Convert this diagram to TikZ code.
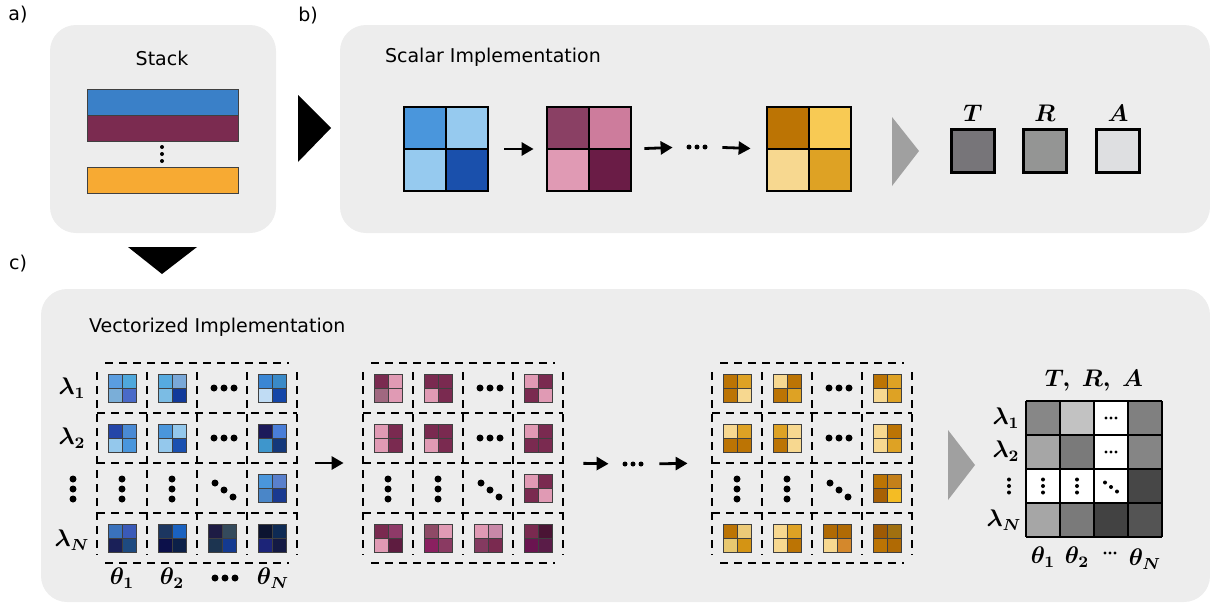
\documentclass[tikz,border=0pt]{standalone}
\usepackage[no-math]{fontspec}
\setmainfont{DejaVu Sans}
\usepackage{amsmath,bm}
\usetikzlibrary{arrows.meta,positioning}

\definecolor{panelgray}{HTML}{EDEDED}
\definecolor{stackblue}{HTML}{3A80C8}
\definecolor{stackplum}{HTML}{7B2B50}
\definecolor{stackgold}{HTML}{F7AA33}
\definecolor{tipgray}{HTML}{A0A0A0}
\definecolor{boxT}{HTML}{777579}
\definecolor{boxR}{HTML}{949594}
\definecolor{boxA}{HTML}{DEDFE1}

\tikzset{
  panel/.style={fill=panelgray, rounded corners=13pt},
  cellgrid/.style={dash pattern=on 4pt off 3pt, line width=1.1pt},
  tile/.style={draw=black!75, line width=0.5pt},
  bigtile/.style={draw=black, line width=1.2pt},
  bar/.style={draw=black!75, line width=0.5pt},
  gbox/.style={draw, line width=1.2pt, minimum size=21.5pt, inner sep=0pt},
  flow/.style={-{Triangle[length=6pt,width=6.5pt]}, line width=1.4pt},
  lbl/.style={font=\fontsize{9.5}{11}\selectfont},
  mathlbl/.style={font=\fontsize{12}{14}\selectfont},
}

% name, style, x, y, half size, colours TL TR BL BR
\newcommand\tilegrid[9]{%
  \definecolor{tileTL}{HTML}{#6}\definecolor{tileTR}{HTML}{#7}%
  \definecolor{tileBL}{HTML}{#8}\definecolor{tileBR}{HTML}{#9}%
  \fill[tileTL] ({#3-#5},{#4-#5}) rectangle (#3,#4);
  \fill[tileTR] (#3,{#4-#5}) rectangle ({#3+#5},#4);
  \fill[tileBL] ({#3-#5},#4) rectangle (#3,{#4+#5});
  \fill[tileBR] (#3,#4) rectangle ({#3+#5},{#4+#5});
  \draw[#2] ({#3-#5},#4) -- ({#3+#5},#4) (#3,{#4-#5}) -- (#3,{#4+#5});
  \draw[#2] ({#3-#5},{#4-#5}) rectangle ({#3+#5},{#4+#5});
  \node[inner sep=0pt, minimum size=#5pt] (#1) at (#3,#4) {};
}

% x, y, dx, dy, radius
\newcommand\dotline[5]{%
  \foreach \k in {-1,0,1} \fill ({#1+\k*#3},{#2+\k*#4}) circle[radius=#5];
}

% name, x0, y0
\newcommand\dashgrid[3]{%
  \foreach \i in {0,...,4} \draw[cellgrid] ({#2+50*\i},{#3+9}) -- ({#2+50*\i},{#3+192});
  \foreach \j in {1,2,3} \draw[cellgrid] (#2,{#3+50*\j}) -- ({#2+200},{#3+50*\j});
  \draw[cellgrid] ({#2+8},#3) -- ({#2+192},#3) ({#2+8},{#3+200}) -- ({#2+192},{#3+200});
  \node[inner sep=0pt, minimum size=100pt] (#1) at ({#2+100},{#3+100}) {};
}

\begin{document}
\begin{tikzpicture}[x=0.5pt, y=-0.5pt]
\useasboundingbox (0,0) rectangle (1210,605);

% panels
\fill[panel] (50,25) rectangle (276,233);
\fill[panel] (340,25) rectangle (1210,233);
\fill[panel] (41,289) rectangle (1210,602);

\node[lbl] (la) at (18,15) {a)};
\node[lbl] (lb) at (308,16) {b)};
\node[lbl] (lc) at (18,264) {c)};

% a) stack
\node[lbl] (stack) at (162,58) {Stack};
\draw[bar, fill=stackblue] (87,89) rectangle (238,115);
\draw[bar, fill=stackplum] (87,115) rectangle (238,141);
\draw[bar, fill=stackgold] (87,167) rectangle (238,193);
\dotline{162}{154}{0}{7}{1pt}

\fill (298,95) -- (331,128) -- (298,162) -- cycle;
\fill (128,247) -- (197,247) -- (162,274) -- cycle;

% b) scalar
\node[lbl, anchor=west] (stitle) at (378,57) {Scalar Implementation};
\tilegrid{s1}{bigtile}{446}{149}{42}{4A96DC}{96CAEF}{96CAEF}{1A50AC}
\tilegrid{s2}{bigtile}{589}{149}{42}{8A4064}{CD7C9C}{E09AB4}{6A1C46}
\tilegrid{s3}{bigtile}{809}{149}{42}{BC7404}{F8CA54}{F7D890}{DEA224}
\node[inner sep=0pt, minimum width=11pt, minimum height=4pt] (sdots) at (697,147) {};
\dotline{697}{147}{8}{0}{1.25pt}
\draw[flow, shorten <=8pt, shorten >=6.5pt] (s1.east) -- (s2.west);
\draw[flow, shorten <=6.5pt, shorten >=6.5pt] (s2.east) -- (sdots.west);
\draw[flow, shorten <=7pt, shorten >=8pt] (sdots.east) -- (s3.west);

\fill[tipgray] (892,117) -- (919,151) -- (892,186) -- cycle;
\node[gbox, fill=boxT] (boxT) at (973,151) {};
\node[gbox, fill=boxR] (boxR) at (1045,151) {};
\node[gbox, fill=boxA] (boxA) at (1118,151) {};
\node[mathlbl, above=0pt of boxT] (lblT) {$\bm{T}$};
\node[mathlbl, above=0pt of boxR] (lblR) {$\bm{R}$};
\node[mathlbl, above=0pt of boxA] (lblA) {$\bm{A}$};

% c) vectorized
\node[lbl, anchor=west] (vtitle) at (82,327) {Vectorized Implementation};

\dashgrid{vblue}{97}{363}
\tilegrid{b11}{tile}{122}{388}{14}{5A9DE0}{4FA8DC}{7AAED8}{4A6AC8}
\tilegrid{b12}{tile}{172}{388}{14}{56AADF}{7AA8D8}{7BBCE4}{123A9A}
\tilegrid{b14}{tile}{272}{388}{14}{3A86D4}{3A8AC8}{C0DCF4}{1446A8}
\tilegrid{b21}{tile}{122}{438}{14}{2446A8}{4A8AD4}{94C8EC}{4A96DC}
\tilegrid{b22}{tile}{172}{438}{14}{4A96DC}{94C8EC}{94C8EC}{1A50B0}
\tilegrid{b24}{tile}{272}{438}{14}{1C1A5A}{4A7ED8}{3E96CC}{14387A}
\tilegrid{b34}{tile}{272}{488}{14}{4A96DC}{5A80CC}{4A86C8}{1A3A90}
\tilegrid{b41}{tile}{122}{538}{14}{3A72BC}{3A5AB8}{1A2058}{1E4A80}
\tilegrid{b42}{tile}{172}{538}{14}{1C3660}{1A62C0}{0C104A}{0C2048}
\tilegrid{b43}{tile}{222}{538}{14}{1E1C44}{344A5C}{1C3450}{143A90}
\tilegrid{b44}{tile}{272}{538}{14}{0C1430}{0E2A54}{1C2478}{141A44}
\dotline{224}{388}{10}{0}{1.75pt}
\dotline{224}{438}{10}{0}{1.75pt}
\dotline{122}{489}{0}{10}{1.75pt}
\dotline{172}{489}{0}{10}{1.75pt}
\dotline{224}{490}{9}{7}{1.75pt}

\node[mathlbl] (l1) at (72,388) {$\bm{\lambda_1}$};
\node[mathlbl] (l2) at (72,438) {$\bm{\lambda_2}$};
\dotline{73}{489}{0}{10}{1.75pt}
\node[mathlbl] (lN) at (72,540) {$\bm{\lambda_N}$};
\node[mathlbl] (t1) at (122,578) {$\bm{\theta_1}$};
\node[mathlbl] (t2) at (172,578) {$\bm{\theta_2}$};
\dotline{225}{578}{10}{0}{1.75pt}
\node[mathlbl] (tN) at (273,578) {$\bm{\theta_N}$};

\dashgrid{vplum}{363}{363}
\tilegrid{p11}{tile}{388}{388}{14}{7A2A50}{E09AB4}{A06880}{E09AB4}
\tilegrid{p12}{tile}{438}{388}{14}{7A2A50}{7A2A50}{E09AB4}{7A2A50}
\tilegrid{p14}{tile}{538}{388}{14}{E09AB4}{7A2A50}{7A2A50}{E09AB4}
\tilegrid{p21}{tile}{388}{438}{14}{E09AB4}{7A2A50}{E09AB4}{7A2A50}
\tilegrid{p22}{tile}{438}{438}{14}{7A2A50}{7A2A50}{E09AB4}{7A2A50}
\tilegrid{p24}{tile}{538}{438}{14}{E09AB4}{7A2A50}{7A2A50}{7A2A50}
\tilegrid{p34}{tile}{538}{488}{14}{E09AB4}{7A2A50}{7A2A50}{E09AB4}
\tilegrid{p41}{tile}{388}{538}{14}{7A2A50}{8E3A68}{E09AB4}{5E1C40}
\tilegrid{p42}{tile}{438}{538}{14}{8E4A66}{E09AB4}{8A2060}{8A3A62}
\tilegrid{p43}{tile}{488}{538}{14}{E09AB4}{C888A8}{843A60}{7A2A50}
\tilegrid{p44}{tile}{538}{538}{14}{7A2A50}{4A1434}{6A1450}{5A1C48}
\dotline{490}{388}{10}{0}{1.75pt}
\dotline{490}{438}{10}{0}{1.75pt}
\dotline{388}{489}{0}{10}{1.75pt}
\dotline{438}{489}{0}{10}{1.75pt}
\dotline{490}{490}{9}{7}{1.75pt}

\dashgrid{vgold}{712}{363}
\tilegrid{g11}{tile}{737}{388}{14}{BC7404}{DEA224}{BC7404}{F7D890}
\tilegrid{g12}{tile}{787}{388}{14}{F7D890}{BC7404}{BC7404}{DEA224}
\tilegrid{g14}{tile}{887}{388}{14}{BC7404}{DEA224}{F7D890}{DEA224}
\tilegrid{g21}{tile}{737}{438}{14}{F7D890}{DEA224}{BC7404}{BC7404}
\tilegrid{g22}{tile}{787}{438}{14}{DEA224}{F7D890}{BC7404}{F7D890}
\tilegrid{g24}{tile}{887}{438}{14}{F7D890}{BC7404}{F7D890}{DEA224}
\tilegrid{g34}{tile}{887}{488}{14}{BC7404}{C4801A}{A86004}{F4BC24}
\tilegrid{g41}{tile}{737}{538}{14}{BC7404}{ECCA78}{E8C870}{D49414}
\tilegrid{g42}{tile}{787}{538}{14}{F7D890}{DEA224}{F7D890}{BC7404}
\tilegrid{g43}{tile}{837}{538}{14}{B06A04}{B06A04}{F7D890}{D4882C}
\tilegrid{g44}{tile}{887}{538}{14}{9E5A04}{A07010}{BC7404}{B06A04}
\dotline{839}{388}{10}{0}{1.75pt}
\dotline{839}{438}{10}{0}{1.75pt}
\dotline{737}{489}{0}{10}{1.75pt}
\dotline{787}{489}{0}{10}{1.75pt}
\dotline{839}{490}{9}{7}{1.75pt}

\node[inner sep=0pt, minimum width=11pt, minimum height=4pt] (vdots) at (633,464) {};
\dotline{633}{464}{8}{0}{1.25pt}
\draw[flow, shorten <=9pt, shorten >=9.5pt] (vblue.east) -- (vplum.west);
\draw[flow, shorten <=10pt, shorten >=6.5pt] (vplum.east) -- (vdots.west);
\draw[flow, shorten <=7.5pt, shorten >=12pt] (vdots.east) -- (vgold.west);

\fill[tipgray] (948,430) -- (975,465) -- (948,500) -- cycle;

% result matrix
\node[inner sep=0pt, minimum size=68pt] (fmat) at (1094,469) {};
\foreach \c/\r/\s in {0/0/47, 1/0/24, 2/0/0, 3/0/50,
                      0/1/35, 1/1/52, 2/1/0, 3/1/48,
                      0/2/0, 1/2/0, 2/2/0, 3/2/72,
                      0/3/35, 1/3/52, 2/3/74, 3/3/67}
  \fill[black!\s] ({1026+34*\c},{401+34*\r}) rectangle ++(34,34);
\foreach \i in {0,...,4} {
  \draw[line width=1pt] ({1026+34*\i},401) -- ({1026+34*\i},537);
  \draw[line width=1pt] (1026,{401+34*\i}) -- (1162,{401+34*\i});
}
\dotline{1111}{418}{5}{0}{0.85pt}
\dotline{1111}{452}{5}{0}{0.85pt}
\dotline{1043}{486}{0}{6.5}{1pt}
\dotline{1077}{486}{0}{6.5}{1pt}
\dotline{1111}{487}{6}{4.5}{1pt}

\node[mathlbl, above=1pt of fmat] (ftitle) {$\bm{T,\ R,\ A}$};
\node[mathlbl] (f1) at (1006,418) {$\bm{\lambda_1}$};
\node[mathlbl] (f2) at (1006,451) {$\bm{\lambda_2}$};
\dotline{1009}{486}{0}{6.5}{1pt}
\node[mathlbl] (fN) at (1004,520) {$\bm{\lambda_N}$};
\node[mathlbl] (ft1) at (1043,557) {$\bm{\theta_1}$};
\node[mathlbl] (ft2) at (1077,557) {$\bm{\theta_2}$};
\dotline{1110}{553}{5}{0}{0.85pt}
\node[mathlbl] (ftN) at (1145,559) {$\bm{\theta_N}$};
\end{tikzpicture}
\end{document}
